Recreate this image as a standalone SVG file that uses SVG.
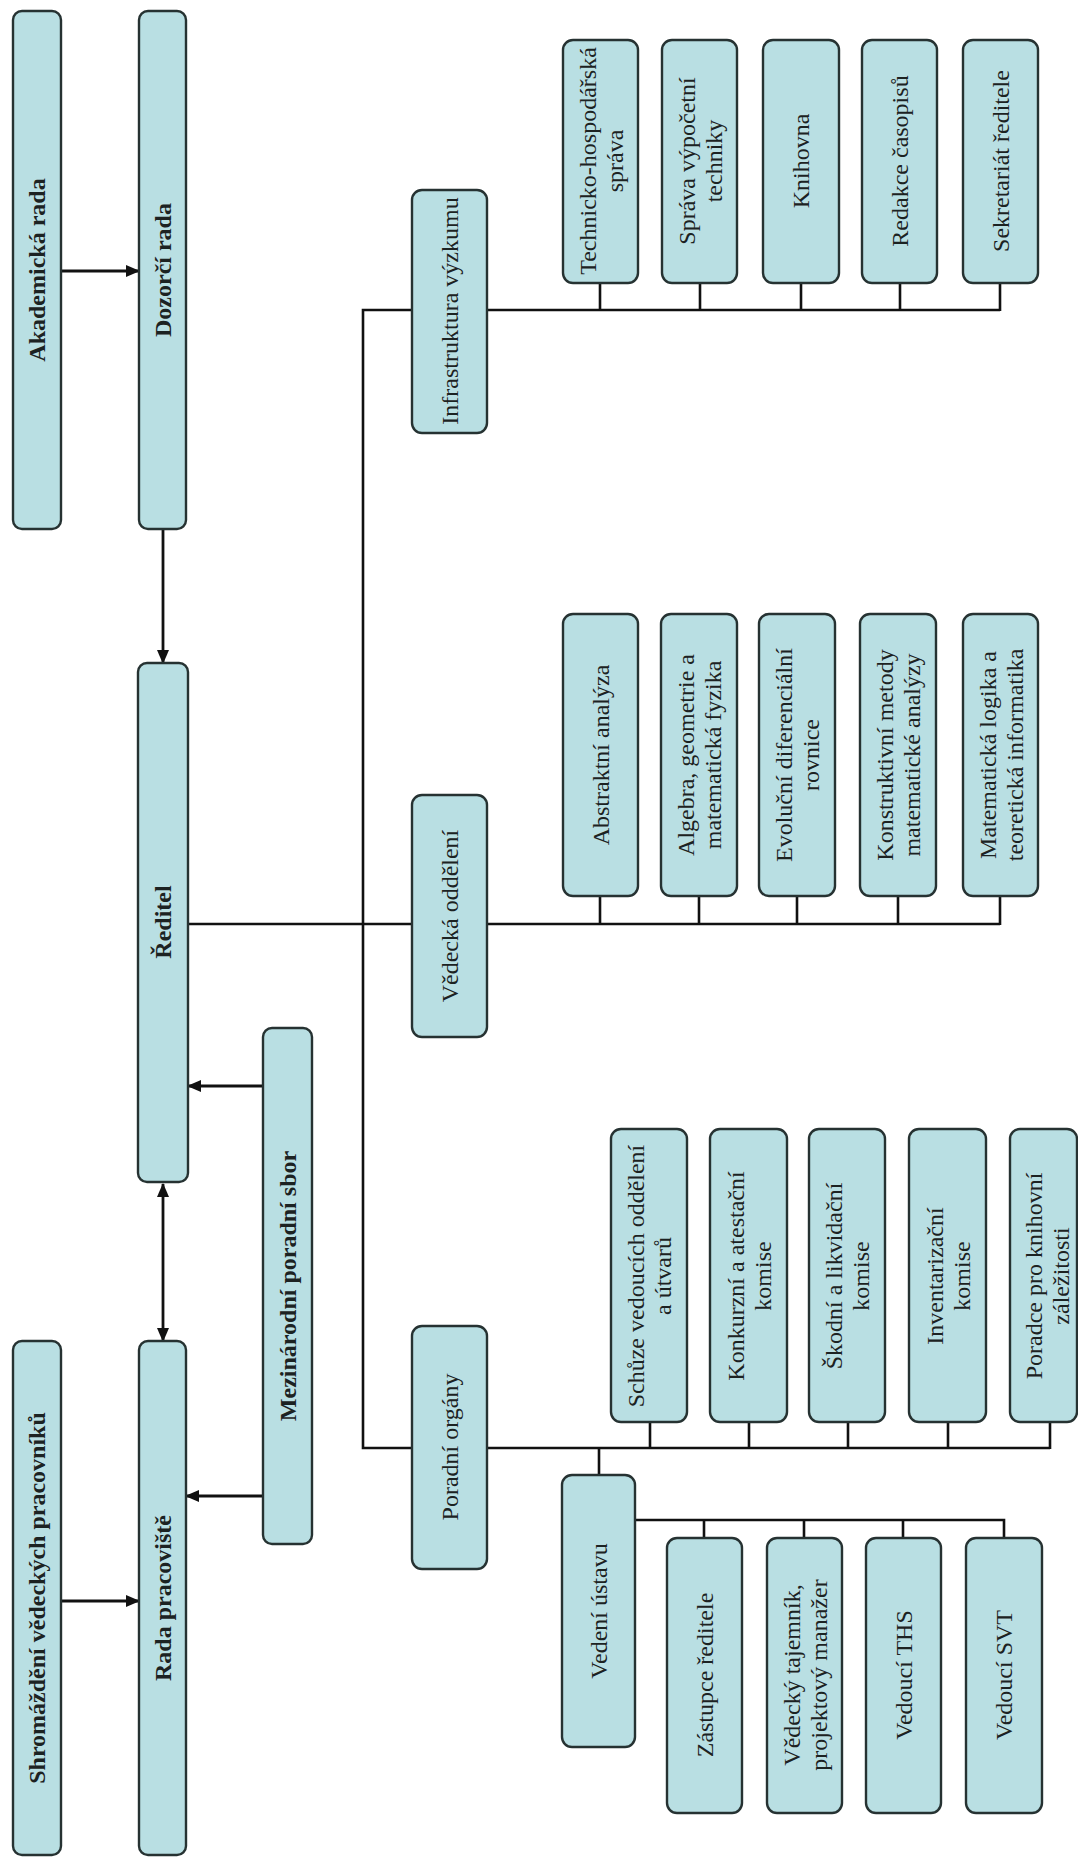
<svg xmlns="http://www.w3.org/2000/svg" width="1078" height="1858" viewBox="0 0 1078 1858">
<style>
.b{fill:#b9dfe3;stroke:#263232;stroke-width:2.4}
.t{font-family:"Liberation Serif","Times New Roman",serif;font-size:24px;fill:#1c2222;text-anchor:middle}
.tb{font-family:"Liberation Serif","Times New Roman",serif;font-size:24px;font-weight:bold;fill:#1c2222;text-anchor:middle}
.l{fill:none;stroke:#111;stroke-width:2.6}
.a{fill:none;stroke:#111;stroke-width:2.8;marker-end:url(#ah)}
</style>
<defs>
<marker id="ah" markerWidth="14" markerHeight="12" refX="13" refY="6" orient="auto-start-reverse" markerUnits="userSpaceOnUse"><path d="M0,0 L14,6 L0,12 z" fill="#111"/></marker>
</defs>
<rect width="1078" height="1858" fill="#fff"/>

<g id="connectors">
<line class="a" x1="61" y1="271" x2="139" y2="271"/>
<line class="a" x1="163" y1="529" x2="163" y2="663"/>
<line class="a" x1="163" y1="1184" x2="163" y2="1341" style="marker-start:url(#ah)"/>
<line class="a" x1="263" y1="1086" x2="188" y2="1086"/>
<line class="a" x1="263" y1="1496" x2="186" y2="1496"/>
<line class="a" x1="61" y1="1601" x2="139" y2="1601"/>
<polyline class="l" points="1000,310 363,310 363,1448 1050,1448"/>
<line class="l" x1="188" y1="924" x2="1000" y2="924"/>
<line class="l" x1="600" y1="283" x2="600" y2="310"/>
<line class="l" x1="700" y1="283" x2="700" y2="310"/>
<line class="l" x1="801" y1="283" x2="801" y2="310"/>
<line class="l" x1="900" y1="283" x2="900" y2="310"/>
<line class="l" x1="1000" y1="283" x2="1000" y2="311"/>
<line class="l" x1="600" y1="896" x2="600" y2="924"/>
<line class="l" x1="699" y1="896" x2="699" y2="924"/>
<line class="l" x1="797" y1="896" x2="797" y2="924"/>
<line class="l" x1="898" y1="896" x2="898" y2="924"/>
<line class="l" x1="1000" y1="896" x2="1000" y2="925"/>
<line class="l" x1="650" y1="1422" x2="650" y2="1448"/>
<line class="l" x1="749" y1="1422" x2="749" y2="1448"/>
<line class="l" x1="848" y1="1422" x2="848" y2="1448"/>
<line class="l" x1="948" y1="1422" x2="948" y2="1448"/>
<line class="l" x1="1050" y1="1422" x2="1050" y2="1449"/>
<line class="l" x1="599" y1="1448" x2="599" y2="1475"/>
<polyline class="l" points="635,1520 1004,1520 1004,1538"/>
<line class="l" x1="704" y1="1520" x2="704" y2="1538"/>
<line class="l" x1="804" y1="1520" x2="804" y2="1538"/>
<line class="l" x1="903" y1="1520" x2="903" y2="1538"/>
</g>

<g id="akademicka-rada"><rect class="b" x="13" y="11" width="48" height="518" rx="9"/><text class="tb" transform="translate(37,270) rotate(-90)" y="8">Akademická rada</text></g>
<g id="dozorci-rada"><rect class="b" x="139" y="11" width="47" height="518" rx="9"/><text class="tb" transform="translate(162.5,270) rotate(-90)" y="8">Dozorčí rada</text></g>
<g id="reditel"><rect class="b" x="138" y="663" width="50" height="519" rx="9"/><text class="tb" transform="translate(163,922) rotate(-90)" y="8">Ředitel</text></g>
<g id="rada-pracoviste"><rect class="b" x="139" y="1341" width="47" height="514" rx="9"/><text class="tb" transform="translate(162.5,1598) rotate(-90)" y="8">Rada pracoviště</text></g>
<g id="shromazdeni"><rect class="b" x="13" y="1341" width="48" height="514" rx="9"/><text class="tb" transform="translate(37,1598) rotate(-90)" y="8">Shromáždění vědeckých pracovníků</text></g>
<g id="mezinarodni"><rect class="b" x="263" y="1028" width="49" height="516" rx="9"/><text class="tb" transform="translate(287.5,1286) rotate(-90)" y="8">Mezinárodní poradní sbor</text></g>

<g id="infrastruktura"><rect class="b" x="412" y="190" width="75" height="243" rx="10"/><text class="t" transform="translate(449.5,311) rotate(-90)" y="8">Infrastruktura výzkumu</text></g>
<g id="ths"><rect class="b" x="563" y="40" width="75" height="243" rx="10"/><text class="t" transform="translate(600.5,161) rotate(-90)"><tspan x="0" y="-5">Technicko-hospodářská</tspan><tspan x="0" y="22">správa</tspan></text></g>
<g id="svt"><rect class="b" x="662" y="40" width="75" height="243" rx="10"/><text class="t" transform="translate(699.5,161) rotate(-90)"><tspan x="0" y="-5">Správa výpočetní</tspan><tspan x="0" y="22">techniky</tspan></text></g>
<g id="knihovna"><rect class="b" x="763" y="40" width="76" height="243" rx="10"/><text class="t" transform="translate(801,161) rotate(-90)" y="8">Knihovna</text></g>
<g id="redakce"><rect class="b" x="862" y="40" width="75" height="243" rx="10"/><text class="t" transform="translate(899.5,161) rotate(-90)" y="8">Redakce časopisů</text></g>
<g id="sekretariat"><rect class="b" x="963" y="40" width="75" height="243" rx="10"/><text class="t" transform="translate(1000.5,161) rotate(-90)" y="8">Sekretariát ředitele</text></g>

<g id="vedecka-oddeleni"><rect class="b" x="412" y="795" width="75" height="242" rx="10"/><text class="t" transform="translate(449.5,916) rotate(-90)" y="8">Vědecká oddělení</text></g>
<g id="abstraktni"><rect class="b" x="563" y="614" width="75" height="282" rx="10"/><text class="t" transform="translate(600.5,755) rotate(-90)" y="8">Abstraktní analýza</text></g>
<g id="algebra"><rect class="b" x="661" y="614" width="76" height="282" rx="10"/><text class="t" transform="translate(699,755) rotate(-90)"><tspan x="0" y="-5">Algebra, geometrie a</tspan><tspan x="0" y="22">matematická fyzika</tspan></text></g>
<g id="evolucni"><rect class="b" x="759" y="614" width="76" height="282" rx="10"/><text class="t" transform="translate(797,755) rotate(-90)"><tspan x="0" y="-5">Evoluční diferenciální</tspan><tspan x="0" y="22">rovnice</tspan></text></g>
<g id="konstruktivni"><rect class="b" x="860" y="614" width="76" height="282" rx="10"/><text class="t" transform="translate(898,755) rotate(-90)"><tspan x="0" y="-5">Konstruktivní metody</tspan><tspan x="0" y="22">matematické analýzy</tspan></text></g>
<g id="logika"><rect class="b" x="963" y="614" width="75" height="282" rx="10"/><text class="t" transform="translate(1000.5,755) rotate(-90)"><tspan x="0" y="-5">Matematická logika a</tspan><tspan x="0" y="22">teoretická informatika</tspan></text></g>

<g id="poradni-organy"><rect class="b" x="412" y="1326" width="75" height="243" rx="10"/><text class="t" transform="translate(449.5,1447) rotate(-90)" y="8">Poradní orgány</text></g>
<g id="schuze"><rect class="b" x="611" y="1129" width="76" height="293" rx="10"/><text class="t" transform="translate(649,1276) rotate(-90)"><tspan x="0" y="-5">Schůze vedoucích oddělení</tspan><tspan x="0" y="22">a útvarů</tspan></text></g>
<g id="konkurzni"><rect class="b" x="710" y="1129" width="77" height="293" rx="10"/><text class="t" transform="translate(748.5,1276) rotate(-90)"><tspan x="0" y="-5">Konkurzní a atestační</tspan><tspan x="0" y="22">komise</tspan></text></g>
<g id="skodni"><rect class="b" x="809" y="1129" width="76" height="293" rx="10"/><text class="t" transform="translate(847,1276) rotate(-90)"><tspan x="0" y="-5">Škodní a likvidační</tspan><tspan x="0" y="22">komise</tspan></text></g>
<g id="inventarizacni"><rect class="b" x="909" y="1129" width="77" height="293" rx="10"/><text class="t" transform="translate(947.5,1276) rotate(-90)"><tspan x="0" y="-5">Inventarizační</tspan><tspan x="0" y="22">komise</tspan></text></g>
<g id="poradce"><rect class="b" x="1010" y="1129" width="67" height="293" rx="10"/><text class="t" transform="translate(1047,1276) rotate(-90)"><tspan x="0" y="-5">Poradce pro knihovní</tspan><tspan x="0" y="22">záležitosti</tspan></text></g>

<g id="vedeni-ustavu"><rect class="b" x="562" y="1475" width="73" height="272" rx="10"/><text class="t" transform="translate(598.5,1611) rotate(-90)" y="8">Vedení ústavu</text></g>
<g id="zastupce"><rect class="b" x="667" y="1538" width="75" height="275" rx="10"/><text class="t" transform="translate(704.5,1675) rotate(-90)" y="8">Zástupce ředitele</text></g>
<g id="tajemnik"><rect class="b" x="767" y="1538" width="75" height="275" rx="10"/><text class="t" transform="translate(804.5,1675) rotate(-90)"><tspan x="0" y="-5">Vědecký tajemník,</tspan><tspan x="0" y="22">projektový manažer</tspan></text></g>
<g id="vedouci-ths"><rect class="b" x="866" y="1538" width="75" height="275" rx="10"/><text class="t" transform="translate(903.5,1675) rotate(-90)" y="8">Vedoucí THS</text></g>
<g id="vedouci-svt"><rect class="b" x="966" y="1538" width="76" height="275" rx="10"/><text class="t" transform="translate(1004,1675) rotate(-90)" y="8">Vedoucí SVT</text></g>
</svg>
